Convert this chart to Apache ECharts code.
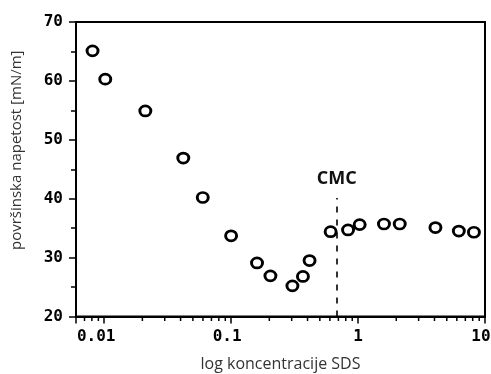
<!DOCTYPE html>
<html>
<head>
<meta charset="utf-8">
<script src="https://cdn.jsdelivr.net/npm/echarts@6/dist/echarts.min.js"></script>
<style>html,body{margin:0;padding:0;background:#fff;}#c{width:491px;height:374px;}</style>
</head>
<body>
<div id="c"></div>
<script>
// Data
var concentration = [0.0081, 0.0102, 0.0211, 0.042, 0.0598, 0.1, 0.16, 0.204, 0.304, 0.368, 0.415, 0.608, 0.834, 1.03, 1.6, 2.13, 4.07, 6.22, 8.18];
var tension = [65.1, 60.3, 54.9, 46.9, 40.2, 33.7, 29.1, 26.9, 25.2, 26.8, 29.5, 34.4, 34.7, 35.6, 35.7, 35.7, 35.1, 34.5, 34.3];
var xLabelValues = [0.01, 0.1, 1, 10];
var xLabelTexts = ['0.01', '0.1', '1', '10'];
var xMinorTicks = [0.007, 0.008, 0.009, 0.02, 0.03, 0.04, 0.05, 0.06, 0.07, 0.08, 0.09, 0.2, 0.3, 0.4, 0.5, 0.6, 0.7, 0.8, 0.9, 2, 3, 4, 5, 6, 7, 8, 9];
var cmcValue = 0.68;
var cmcLineRange = [20, 40.1];
var xMin = 0.006, xMax = 10;
var yMin = 20, yMax = 70, yInterval = 10;

var chart = echarts.init(document.getElementById('c'), null, {renderer: 'canvas'});
var tickFont = 'DejaVu Sans Mono';
var points = concentration.map(function (c, i) { return [c, tension[i]]; });
var minorTickData = xMinorTicks.map(function (v) { return [v, yMin]; });

var labelShift = {'0.01': 16, '0.1': 8, '1': 0, '10': 8};
var rich = {};
xLabelTexts.forEach(function (t, i) {
  rich['l' + i] = {fontFamily: tickFont, fontWeight: 'bold', fontSize: 16, color: '#000',
                   padding: [0, labelShift[t], 0, 0]};
});

chart.setOption({
  animation: false,
  backgroundColor: '#fff',
  grid: {left: 76, top: 22, right: 6, bottom: 57.5, outerBoundsMode: 'none', containLabel: false,
         show: true, borderColor: '#000', borderWidth: 2, backgroundColor: 'transparent'},
  xAxis: {
    type: 'log', logBase: 10, min: xMin, max: xMax, position: 'bottom',
    name: 'log koncentracije SDS', nameLocation: 'middle', nameGap: 40,
    nameTextStyle: {fontFamily: 'Open Sans', fontSize: 16, color: '#333'},
    axisLine: {show: true, onZero: false, lineStyle: {color: '#000', width: 2}},
    axisTick: {show: true, length: 7, lineStyle: {color: '#000', width: 1.5}},
    axisLabel: {
      customValues: xLabelValues, margin: 12,
      fontFamily: tickFont, fontWeight: 'bold', fontSize: 16, color: '#000',
      rich: rich,
      formatter: function (v) {
        var idx = -1;
        xLabelValues.forEach(function (t, i) { if (Math.abs(t - v) < t * 1e-6) idx = i; });
        return idx >= 0 ? '{l' + idx + '|' + xLabelTexts[idx] + '}' : '';
      }
    },
    splitLine: {show: false}, minorTick: {show: false}
  },
  yAxis: {
    type: 'value', min: yMin, max: yMax, interval: yInterval,
    name: 'površinska napetost [mN/m]', nameLocation: 'middle', nameGap: 52,
    nameTextStyle: {fontFamily: 'Open Sans', fontSize: 15, color: '#333', padding: [0, 0, 0, 38]},
    axisLine: {show: true, onZero: false, lineStyle: {color: '#000', width: 2}},
    axisTick: {show: true, length: 7, lineStyle: {color: '#000', width: 1.5}},
    minorTick: {show: true, splitNumber: 2, length: 5, lineStyle: {color: '#000', width: 1.5}},
    axisLabel: {margin: 13, fontFamily: tickFont, fontWeight: 'bold', fontSize: 16, color: '#000'},
    splitLine: {show: false}
  },
  series: [{
    type: 'custom',
    clip: false,
    data: minorTickData,
    renderItem: function (params, api) {
      var p = api.coord([api.value(0), api.value(1)]);
      return {type: 'line', shape: {x1: p[0], y1: p[1], x2: p[0], y2: p[1] + 4.5},
              style: {stroke: '#000', lineWidth: 1.5}};
    }
  }, {
    type: 'scatter',
    data: points,
    symbol: 'circle',
    symbolSize: [11, 10],
    z: 3,
    itemStyle: {color: '#fff', borderColor: '#000', borderWidth: 2.8, opacity: 1},
    markLine: {
      silent: true,
      symbol: ['none', 'none'],
      lineStyle: {color: '#000', width: 1.6, type: [6, 7]},
      label: {show: true, position: 'end', formatter: 'CMC', distance: 10,
              fontFamily: 'Open Sans', fontWeight: 'bold', fontSize: 18, color: '#111'},
      data: [[{coord: [cmcValue, cmcLineRange[0]]}, {coord: [cmcValue, cmcLineRange[1]]}]]
    }
  }]
});
</script>
</body>
</html>
